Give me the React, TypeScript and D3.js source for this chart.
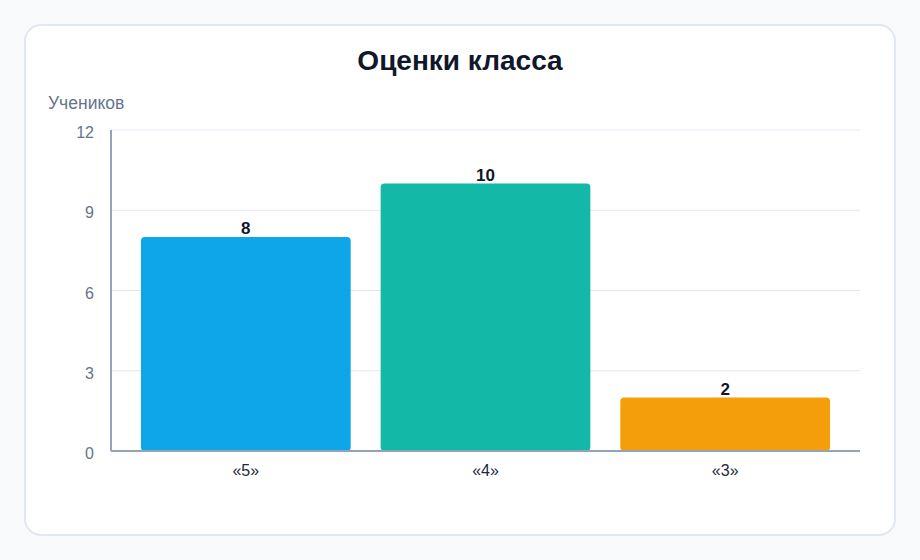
import * as React from "react";
import { scaleBand, scaleLinear } from "d3";

const grades = ["«5»", "«4»", "«3»"];
const students = [8, 10, 2];
const barColors = ["#0ea5e9", "#14b8a6", "#f59e0b"];
const yTicks = [0, 3, 6, 9, 12];

const W = 920;
const H = 560;
const font = "'Liberation Sans', Arial, sans-serif";

function App() {
    const left = 111;
    const right = 860;
    const top = 130;
    const bottom = 451;

    const xScale = scaleBand()
        .domain(grades)
        .range([left, right])
        .padding(0.125);

    const yScale = scaleLinear()
        .domain([0, 12])
        .range([bottom, top]);

    return (
        <svg width={W} height={H} style={{ position: "absolute", left: 0, top: 0 }}>
            <rect x={0} y={0} width={W} height={H} fill="#f8fafc" />
            <rect x={25} y={25} width={870} height={510} rx={16} fill="#ffffff" stroke="#e2e8f0" strokeWidth={2} />
            <text x={460} y={70} textAnchor="middle" fontFamily={font} fontWeight="bold" fontSize={28} fill="#0f172a">
                Оценки класса
            </text>
            <text x={48} y={109} fontFamily={font} fontSize={17.5} fill="#64748b">
                Учеников
            </text>

            {/* grid */}
            {yTicks.map(t => (
                <g key={t}>
                    {t > 0 && (
                        <line x1={left} x2={right} y1={yScale(t)} y2={yScale(t)} stroke="#e2e8f0" strokeWidth={1} />
                    )}
                    <text x={94} y={yScale(t) + 8} textAnchor="end" fontFamily={font} fontSize={16} fill="#64748b">
                        {t}
                    </text>
                </g>
            ))}

            {/* bars */}
            {grades.map((g, i) => {
                const x = xScale(g);
                const y = yScale(students[i]);
                return (
                    <g key={g}>
                        <rect x={x} y={y} width={xScale.bandwidth()} height={bottom - y} rx={4} fill={barColors[i]} />
                        <text x={x + xScale.bandwidth() / 2} y={y - 3} textAnchor="middle" fontFamily={font} fontWeight="bold" fontSize={17} fill="#0f172a">
                            {students[i]}
                        </text>
                        <text x={x + xScale.bandwidth() / 2} y={476} textAnchor="middle" fontFamily={font} fontSize={16} fill="#1e293b">
                            {g}
                        </text>
                    </g>
                );
            })}

            {/* axes */}
            <line x1={left} x2={left} y1={top} y2={bottom} stroke="#94a3b8" strokeWidth={2} />
            <line x1={left} x2={right} y1={bottom} y2={bottom} stroke="#94a3b8" strokeWidth={2} />
        </svg>
    );
}

export default App;
